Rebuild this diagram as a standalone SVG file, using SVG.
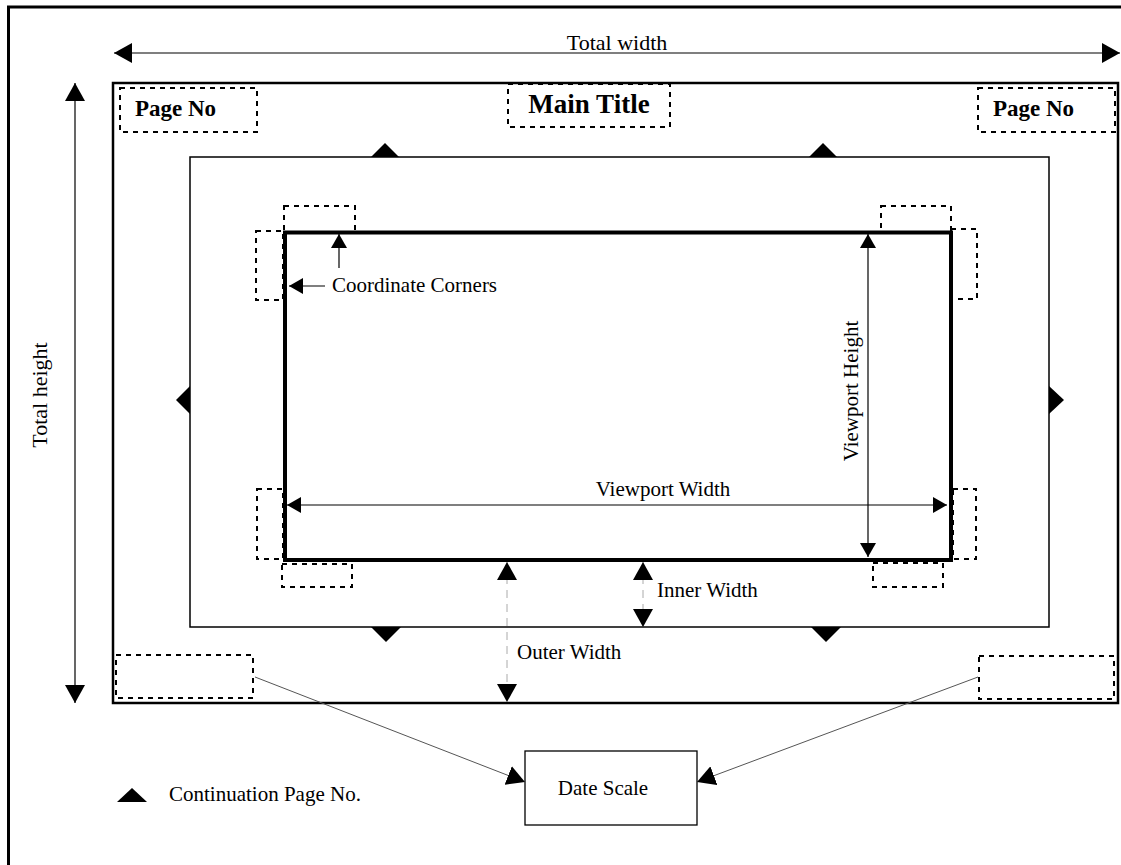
<svg xmlns="http://www.w3.org/2000/svg" width="1121" height="865" viewBox="0 0 1121 865">
<style>
text{font-family:"Liberation Serif","Times New Roman",serif;fill:#000}
.lbl{font-size:21px}
.bold{font-size:23px;font-weight:bold}
.dash{fill:none;stroke:#000;stroke-width:2;stroke-dasharray:5,5}
.thin{fill:none;stroke:#000;stroke-width:1.2}
.gdash{fill:none;stroke:#aaa;stroke-width:1;stroke-dasharray:8,6}
.tri{fill:#000}
</style>
<defs>
<marker id="big" markerUnits="userSpaceOnUse" markerWidth="18" markerHeight="20" refX="18" refY="10" orient="auto-start-reverse" viewBox="0 0 18 20"><path d="M0,0 L18,10 L0,20 z" fill="#000"/></marker>
<marker id="med" markerUnits="userSpaceOnUse" markerWidth="14" markerHeight="16" refX="14" refY="8" orient="auto-start-reverse" viewBox="0 0 14 16"><path d="M0,0 L14,8 L0,16 z" fill="#000"/></marker>
</defs>
<rect width="1121" height="865" fill="#fff"/>
<g id="frame"><rect x="8.5" y="7" width="1130" height="880" fill="none" stroke="#000" stroke-width="3"/></g>
<g id="outer-page"><rect x="113" y="83" width="1005" height="620" fill="none" stroke="#000" stroke-width="2.5"/></g>
<g id="inner-area"><rect x="190" y="157" width="859" height="470" fill="none" stroke="#000" stroke-width="1.5"/></g>
<g id="viewport"><rect x="285" y="232.5" width="666" height="327.5" fill="none" stroke="#000" stroke-width="4"/></g>
<g id="page-no-left"><rect class="dash" x="120" y="88" width="137" height="44"/><text class="bold" x="135" y="116">Page No</text></g>
<g id="page-no-right"><rect class="dash" x="978" y="88" width="137" height="44"/><text class="bold" x="993" y="116">Page No</text></g>
<g id="main-title"><rect class="dash" x="508" y="84" width="162" height="43"/><text x="589" y="113" text-anchor="middle" style="font-size:27px;font-weight:bold">Main Title</text></g>
<g id="corners">
<rect class="dash" x="284" y="206" width="71" height="26"/>
<rect class="dash" x="256" y="231" width="27" height="69"/>
<rect class="dash" x="881" y="206" width="70" height="26"/>
<rect class="dash" x="951" y="229" width="26" height="70"/>
<rect class="dash" x="257" y="489" width="26" height="70"/>
<rect class="dash" x="282" y="564" width="70" height="23"/>
<rect class="dash" x="953" y="489" width="23" height="70"/>
<rect class="dash" x="873" y="563" width="70" height="24"/>
</g>
<g id="date-corner-left"><rect class="dash" x="116" y="655" width="137" height="43"/></g>
<g id="date-corner-right"><rect class="dash" x="979" y="656" width="135" height="43"/></g>
<g id="continuation-markers">
<path class="tri" d="M371,157 L385,143 L399,157 z"/>
<path class="tri" d="M809,157 L823,143 L837,157 z"/>
<path class="tri" d="M371,627 L386,642 L401,627 z"/>
<path class="tri" d="M811,627 L826,642 L841,627 z"/>
<path class="tri" d="M190,386 L176,400 L190,414 z"/>
<path class="tri" d="M1049,386 L1064,400 L1049,414 z"/>
</g>
<g id="date-scale"><rect x="525" y="751" width="172" height="74" fill="#fff" stroke="#000" stroke-width="1.3"/><text class="lbl" x="603" y="795" text-anchor="middle">Date Scale</text></g>
<g id="legend"><path class="tri" d="M117,802 L132,788 L147,802 z"/><text class="lbl" x="169" y="801">Continuation Page No.</text></g>
<g id="connectors">
<line class="thin" x1="114" y1="53" x2="1120" y2="53" marker-start="url(#big)" marker-end="url(#big)"/>
<line class="thin" x1="75" y1="83" x2="75" y2="703" marker-start="url(#big)" marker-end="url(#big)"/>
<line class="thin" x1="287" y1="505" x2="947" y2="505" marker-start="url(#med)" marker-end="url(#med)"/>
<line class="thin" x1="868" y1="234" x2="868" y2="557" marker-start="url(#med)" marker-end="url(#med)"/>
<line class="thin" x1="339" y1="268" x2="339" y2="234" marker-end="url(#med)"/>
<line class="thin" x1="325" y1="286" x2="289" y2="286" marker-end="url(#med)"/>
<line class="gdash" x1="643" y1="562" x2="643" y2="627" marker-start="url(#big)" marker-end="url(#big)"/>
<line class="gdash" x1="507" y1="562" x2="507" y2="702" marker-start="url(#big)" marker-end="url(#big)"/>
<line x1="255" y1="677" x2="525" y2="782" stroke="#555" stroke-width="1" marker-end="url(#big)"/>
<line x1="978" y1="677" x2="697" y2="782" stroke="#555" stroke-width="1" marker-end="url(#big)"/>
</g>
<g id="labels">
<text class="lbl" x="617" y="50" style="font-size:22px" text-anchor="middle">Total width</text>
<text class="lbl" transform="translate(47,395) rotate(-90)" style="font-size:22px" text-anchor="middle">Total height</text>
<text class="lbl" transform="translate(858,391) rotate(-90)" text-anchor="middle">Viewport Height</text>
<text class="lbl" x="663" y="496" text-anchor="middle">Viewport Width</text>
<text class="lbl" x="332" y="292">Coordinate Corners</text>
<text class="lbl" x="657" y="597">Inner Width</text>
<text class="lbl" x="517" y="659">Outer Width</text>
</g>
</svg>
